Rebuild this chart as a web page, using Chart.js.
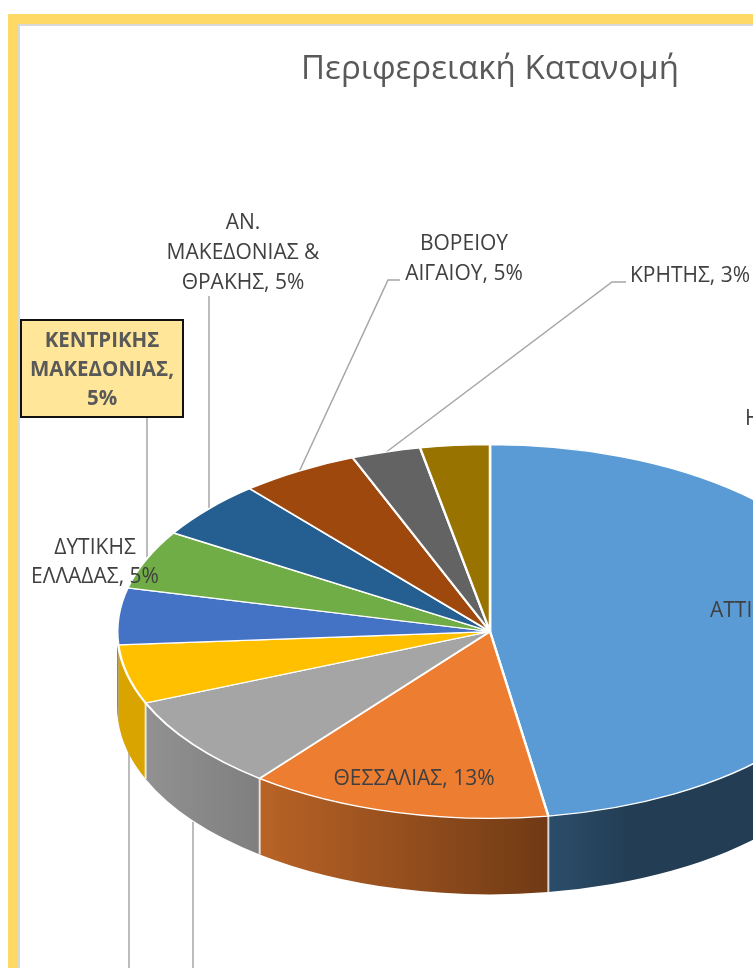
<!DOCTYPE html>
<html lang="el">
<head>
<meta charset="utf-8">
<title>Περιφερειακή Κατανομή</title>
<style>
html,body{margin:0;padding:0;background:#fff;width:753px;height:968px;overflow:hidden}
canvas{display:block}
</style>
<script src="https://cdn.jsdelivr.net/npm/chart.js@4"></script>
</head>
<body>
<canvas id="c" width="980" height="968" style="width:980px;height:968px"></canvas>
<script>
const titleText = 'Περιφερειακή Κατανομή';
const categories = ['ΑΤΤΙΚΗΣ','ΘΕΣΣΑΛΙΑΣ','','','ΔΥΤΙΚΗΣ ΕΛΛΑΔΑΣ','ΚΕΝΤΡΙΚΗΣ ΜΑΚΕΔΟΝΙΑΣ','ΑΝ. ΜΑΚΕΔΟΝΙΑΣ & ΘΡΑΚΗΣ','ΒΟΡΕΙΟΥ ΑΙΓΑΙΟΥ','ΚΡΗΤΗΣ','ΗΠΕΙΡΟΥ'];
const shares = [47.5,13.1,8.15,5.1,4.9,5.1,5,5.15,3,3];
const topColors = ['#5B9BD5','#ED7D31','#A5A5A5','#FFC000','#4472C4','#70AD47','#255E91','#9E480E','#636363','#997300'];
const wallStops = [
  [[0,'#2b4d6b'],[0.25,'#233e54'],[1,'#233e54']],
  [[0,'#b96326'],[1,'#703a15']],
  [[0,'#919191'],[1,'#7f7f7f']],
  [[0,'#dba500'],[1,'#d9a300']],
  [[0,'#3b63ab'],[1,'#3b63ab']],
  [[0,'#62983e'],[1,'#62983e']],
  [[0,'#204f7b'],[1,'#204f7b']],
  [[0,'#853c0c'],[1,'#853c0c']],
  [[0,'#545454'],[1,'#545454']],
  [[0,'#806000'],[1,'#806000']]
];
const labelFont = '21px "Open Sans"';
const boldFont = 'bold 20.5px "Open Sans"';
const TILT = 187/373, CENTER_Y = 631.5, DEPTH = 76;

const plainLabels = [
  {i:6, lines:['ΑΝ.','ΜΑΚΕΔΟΝΙΑΣ &','ΘΡΑΚΗΣ, 5%'], x:243, y:223, lh:30},
  {i:7, lines:['ΒΟΡΕΙΟΥ','ΑΙΓΑΙΟΥ, 5%'], x:464, y:244, lh:30},
  {i:8, lines:['ΚΡΗΤΗΣ, 3%'], x:690, y:276, lh:30},
  {i:4, lines:['ΔΥΤΙΚΗΣ','ΕΛΛΑΔΑΣ, 5%'], x:95, y:548, lh:29},
  {i:1, lines:['ΘΕΣΣΑΛΙΑΣ, 13%'], x:414, y:779, lh:30},
  {i:0, lines:['ΑΤΤΙΚΗΣ, 47%'], x:710, y:611, lh:30, align:'left'},
  {i:9, lines:['ΗΠΕΙΡΟΥ, 3%'], x:745, y:419, lh:30, align:'left'}
];
const boxedLabel = {lines:['ΚΕΝΤΡΙΚΗΣ','ΜΑΚΕΔΟΝΙΑΣ,','5%'], x:102, y:341, lh:29, box:[21,320,162,97]};
const leaders = [
  [[147,417],[147,562]],
  [[209,296],[209,510]],
  [[400,280],[388,280],[299,472]],
  [[626,282],[612,282],[385,453]],
  [[129,750],[129,968]],
  [[193,822],[193,968]]
];

function applyTilt(ctx, x, y){
  ctx.translate(x, CENTER_Y);
  ctx.scale(1, TILT);
  ctx.translate(-x, -y);
}

const pie3d = {
  id:'pie3d',
  beforeDraw(chart){
    const ctx = chart.ctx;
    ctx.save();
    ctx.fillStyle='#ffffff';
    ctx.fillRect(0,0,chart.width,chart.height);
    ctx.fillStyle='#d9d9d9';
    ctx.fillRect(18,24,chart.width,2);
    ctx.fillRect(18,24,2,chart.height);
    ctx.fillStyle='#FFD966';
    ctx.fillRect(8,14,chart.width,10);
    ctx.fillRect(8,14,10,chart.height);
    ctx.restore();
  },
  beforeDatasetsDraw(chart){
    const ctx = chart.ctx;
    const arcs = chart.getDatasetMeta(0).data;
    ctx.save();
    ctx.strokeStyle='#a6a6a6';
    ctx.lineWidth=1.5;
    leaders.forEach(pts=>{
      ctx.beginPath();
      pts.forEach((p,k)=>k?ctx.lineTo(p[0],p[1]):ctx.moveTo(p[0],p[1]));
      ctx.stroke();
    });
    arcs.forEach((a,i)=>{
      const from=Math.max(a.startAngle,0), to=Math.min(a.endAngle,Math.PI);
      if(to<=from) return;
      const r=a.outerRadius, ry=r*TILT, x=a.x;
      const xa=x+r*Math.cos(from), xb=x+r*Math.cos(to);
      const g=ctx.createLinearGradient(Math.min(xa,xb),0,Math.max(xa,xb),0);
      wallStops[i].forEach(s=>g.addColorStop(s[0],s[1]));
      ctx.beginPath();
      ctx.ellipse(x,CENTER_Y,r,ry,0,from,to);
      ctx.ellipse(x,CENTER_Y+DEPTH,r,ry,0,to,from,true);
      ctx.closePath();
      ctx.fillStyle=g;
      ctx.fill();
    });
    ctx.strokeStyle='rgba(255,255,255,0.75)';
    ctx.lineWidth=2;
    arcs.forEach(a=>{
      const t=a.endAngle;
      if(t>0 && t<Math.PI*0.95){
        const px=a.x+a.outerRadius*Math.cos(t), py=CENTER_Y+a.outerRadius*TILT*Math.sin(t);
        ctx.beginPath();ctx.moveTo(px,py);ctx.lineTo(px,py+DEPTH);ctx.stroke();
      }
    });
    ctx.restore();
    const first=arcs[0];
    ctx.save();
    applyTilt(ctx,first.x,first.y);
  },
  afterDatasetsDraw(chart){
    chart.ctx.restore();
  },
  afterDraw(chart){
    const ctx=chart.ctx;
    ctx.save();
    ctx.textBaseline='middle';
    ctx.fillStyle='#404040';
    ctx.font=labelFont;
    plainLabels.forEach(l=>{
      ctx.textAlign=l.align||'center';
      l.lines.forEach((t,k)=>ctx.fillText(t,l.x,l.y+k*l.lh));
    });
    const b=boxedLabel;
    ctx.fillStyle='#FFE699';
    ctx.fillRect(b.box[0],b.box[1],b.box[2],b.box[3]);
    ctx.strokeStyle='#111111';
    ctx.lineWidth=2;
    ctx.strokeRect(b.box[0],b.box[1],b.box[2],b.box[3]);
    ctx.fillStyle='#595959';
    ctx.font=boldFont;
    ctx.textAlign='center';
    b.lines.forEach((t,k)=>ctx.fillText(t,b.x,b.y+k*b.lh));
    ctx.restore();
  }
};

new Chart(document.getElementById('c'),{
  type:'pie',
  data:{labels:categories,datasets:[{
    data:shares,
    backgroundColor:topColors,
    borderColor:'#ffffff',
    borderWidth:2.5,
    clip:false
  }]},
  options:{
    responsive:false,
    animation:false,
    layout:{padding:{left:116,right:116,top:0,bottom:0}},
    plugins:{
      legend:{display:false},
      tooltip:{enabled:false},
      title:{display:true,text:titleText,color:'#595959',
        font:{family:'"Open Sans"',size:33,weight:'normal'},
        padding:{top:50,bottom:15}}
    }
  },
  plugins:[pie3d]
});
</script>
</body>
</html>
